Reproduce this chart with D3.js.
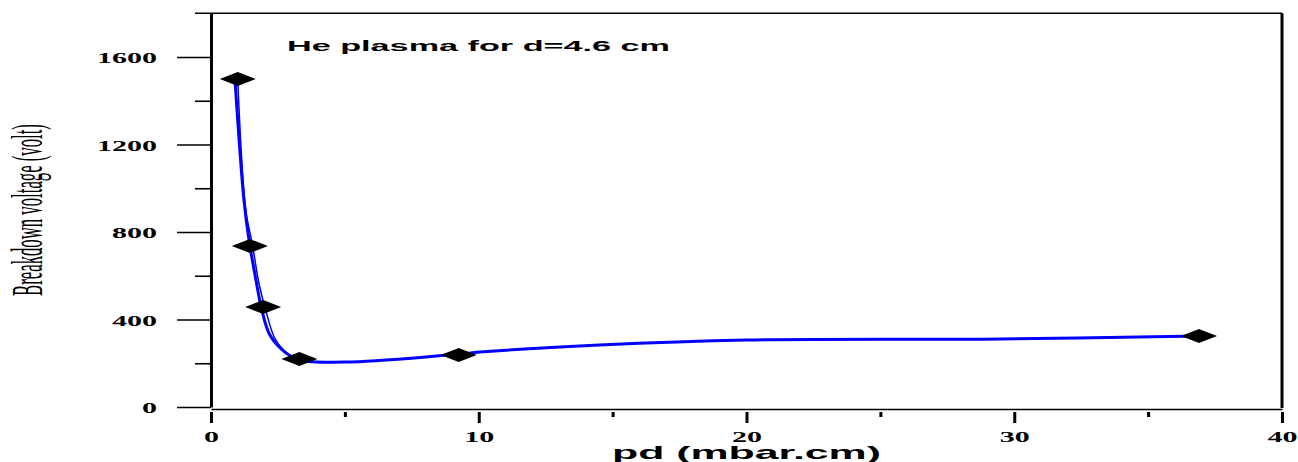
<!DOCTYPE html>
<html>
<head>
<meta charset="utf-8">
<script src="https://cdn.jsdelivr.net/npm/d3@7"></script>
<style>
  html, body { margin: 0; padding: 0; background: #fff; }
  #chart { width: 1298px; height: 462px; }
</style>
</head>
<body>
<div id="chart"></div>
<script>
// measured points: pd (mbar.cm) vs breakdown voltage (volt)
const pdValues = [1.0, 1.45, 1.95, 3.3, 9.25, 36.9];
const voltages = [1500, 736, 457, 219, 238, 325];

// blue fitted curve
const fitPd = [0.9, 1.23, 1.42, 1.68, 1.9, 2.2, 2.76, 3.32, 5.27, 9.26, 10.05, 14.5, 20.0, 29.5, 36.9];
const fitVolt = [1490, 946, 763, 580, 443, 329, 251, 215, 206, 242, 251, 283, 306, 311, 325];

// thin second trace that splits off along the steep part
const fit2Pd = [1.0, 1.3, 1.55, 1.8, 2.05, 2.4, 2.9, 3.4];
const fit2Volt = [1490, 900, 740, 560, 440, 310, 240, 215];

const yMajorTicks = [0, 400, 800, 1200, 1600];
const yMinorTicks = [200, 600, 1000, 1400];
const xMajorTicks = [0, 10, 20, 30, 40];
const xMinorTicks = [5, 15, 25, 35];

const titleText = 'He plasma for d=4.6 cm';
const xTitle = 'pd (mbar.cm)';
const yTitle = 'Breakdown voltage (volt)';

document.addEventListener('DOMContentLoaded', () => {
    const svg = d3.select('#chart').append('svg')
        .attr('width', 1298)
        .attr('height', 462);

    const left = 211, right = 1282, top = 13.25, bottom = 407;

    const x = d3.scaleLinear().domain([0, 40]).range([left, right]);
    const y = d3.scaleLinear().domain([0, 1800]).range([bottom, top]);

    // the original picture is stretched sideways, so text gets widened too
    function stretch(sel, sx) {
        sel.each(function() {
            const w = this.getComputedTextLength();
            d3.select(this)
                .attr('textLength', w * sx)
                .attr('lengthAdjust', 'spacingAndGlyphs');
        });
    }

    // y axis, major ticks with labels
    const yAxis = svg.append('g')
        .attr('transform', `translate(${left},0)`)
        .call(d3.axisLeft(y).tickValues(yMajorTicks).tickFormat(d3.format('d'))
            .tickSize(34).tickSizeOuter(0).tickPadding(20));
    yAxis.select('.domain').attr('stroke', '#000').attr('stroke-width', 3);
    yAxis.selectAll('.tick line').attr('stroke', '#000').attr('stroke-width', 1.6);
    yAxis.selectAll('.tick text')
        .attr('font-family', '"Liberation Serif", "Times New Roman", serif')
        .attr('font-weight', 'bold')
        .attr('font-size', 15)
        .attr('fill', '#000')
        .attr('dy', '0.38em')
        .call(stretch, 2);

    // y minor ticks
    const yMinor = svg.append('g')
        .attr('transform', `translate(${left},0)`)
        .call(d3.axisLeft(y).tickValues(yMinorTicks).tickSize(16).tickFormat(''));
    yMinor.select('.domain').remove();
    yMinor.selectAll('.tick line').attr('stroke', '#000').attr('stroke-width', 1.6);

    // x axis
    const xAxis = svg.append('g')
        .attr('transform', `translate(0,${bottom + 2})`)
        .call(d3.axisBottom(x).tickValues(xMajorTicks).tickSize(14).tickSizeOuter(0));
    xAxis.select('.domain').attr('stroke', '#000').attr('stroke-width', 1.6);
    xAxis.selectAll('.tick line').attr('stroke', '#000').attr('stroke-width', 3).attr('y1', 3);
    xAxis.selectAll('.tick text')
        .attr('font-family', '"Liberation Serif", "Times New Roman", serif')
        .attr('font-weight', 'bold')
        .attr('font-size', 15)
        .attr('fill', '#000')
        .attr('y', 33)
        .attr('dy', 0)
        .call(stretch, 2);

    const xMinor = svg.append('g')
        .attr('transform', `translate(0,${bottom + 2})`)
        .call(d3.axisBottom(x).tickValues(xMinorTicks).tickSize(8).tickFormat(''));
    xMinor.select('.domain').remove();
    xMinor.selectAll('.tick line').attr('stroke', '#000').attr('stroke-width', 3).attr('y1', 3);

    // frame: top and right
    svg.append('line')
        .attr('x1', left - 16).attr('x2', right)
        .attr('y1', y(1800)).attr('y2', y(1800))
        .attr('stroke', '#000').attr('stroke-width', 1.6);
    svg.append('line')
        .attr('x1', right).attr('x2', right)
        .attr('y1', y(1800)).attr('y2', bottom + 1)
        .attr('stroke', '#000').attr('stroke-width', 3);

    // fitted curves
    const line = d3.line()
        .x(d => x(d[0]))
        .y(d => y(d[1]))
        .curve(d3.curveCatmullRom.alpha(0.5));
    svg.append('path')
        .datum(d3.zip(fit2Pd, fit2Volt))
        .attr('d', line)
        .attr('fill', 'none')
        .attr('stroke', '#0000ff')
        .attr('stroke-width', 1.5);
    svg.append('path')
        .datum(d3.zip(fitPd, fitVolt))
        .attr('d', line)
        .attr('fill', 'none')
        .attr('stroke', '#0000ff')
        .attr('stroke-width', 3);

    // diamond markers
    const hw = 18, hh = 7;
    svg.selectAll('.pt')
        .data(d3.zip(pdValues, voltages))
        .join('path')
        .attr('class', 'pt')
        .attr('d', d => {
            const cx = x(d[0]), cy = y(d[1]);
            return `M${cx - hw},${cy}L${cx},${cy - hh}L${cx + hw},${cy}L${cx},${cy + hh}Z`;
        })
        .attr('fill', '#000');

    // title inside the plot
    svg.append('text')
        .attr('x', 287)
        .attr('y', 51)
        .attr('font-family', '"Liberation Sans", Arial, sans-serif')
        .attr('font-weight', 'bold')
        .attr('font-size', 14)
        .text(titleText)
        .attr('textLength', 383)
        .attr('lengthAdjust', 'spacingAndGlyphs');

    // axis titles
    svg.append('text')
        .attr('x', (left + right) / 2)
        .attr('y', 459)
        .attr('text-anchor', 'middle')
        .attr('font-family', '"Liberation Sans", Arial, sans-serif')
        .attr('font-weight', 'bold')
        .attr('font-size', 19)
        .text(xTitle)
        .attr('textLength', 269)
        .attr('lengthAdjust', 'spacingAndGlyphs');

    // y title: tall narrow serif, squeezed along its baseline with a scale
    const yLab = svg.append('text')
        .attr('text-anchor', 'middle')
        .attr('font-family', '"Liberation Serif", "Times New Roman", serif')
        .attr('font-size', 44)
        .text(yTitle);
    const k = 172 / yLab.node().getComputedTextLength();
    yLab.attr('transform', `translate(42,210) rotate(-90) scale(${k},1)`);
});
</script>
</body>
</html>
